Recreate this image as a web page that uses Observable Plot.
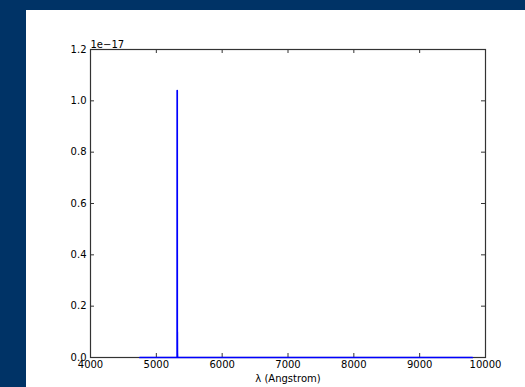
<!DOCTYPE html>
<html>
<head>
<meta charset="utf-8">
<script src="https://cdn.jsdelivr.net/npm/d3@7"></script>
<script src="https://cdn.jsdelivr.net/npm/@observablehq/plot@0.6"></script>
<style>
  html, body { margin: 0; padding: 0; background: #003366; width: 525px; height: 387px; overflow: hidden; }
  #chart { position: absolute; left: 26px; top: 10px; width: 499px; height: 377px; background: #ffffff; }
  #chart svg { background: #ffffff; font-family: "DejaVu Sans", sans-serif; font-size: 10px; color: #000; }
</style>
</head>
<body>
<div id="chart"></div>
<script>
// Spectrum: wavelength (Angstrom) and flux (units of 1e-17)
const wavelength = [4750, 5310, 5316, 5317, 5318, 5319, 5320, 5321, 5323, 5330, 9800];
const flux       = [0,    0,    0,    1.04, 0.03, 0.10, 0.02, 0.01, 0,    0,    0];
const xTicks = [4000, 5000, 6000, 7000, 8000, 9000, 10000];
const yTicks = [0.0, 0.2, 0.4, 0.6, 0.8, 1.0, 1.2];
const offsetLabel = "1e\u221217";
const xLabel = "\u03bb (Angstrom)";

const data = wavelength.map((w, i) => ({w, f: flux[i]}));

const chart = Plot.plot({
  width: 499,
  height: 377,
  marginLeft: 64,
  marginRight: 40,
  marginTop: 39,
  marginBottom: 30,
  style: {fontFamily: "DejaVu Sans, sans-serif", fontSize: "10px", color: "#000", background: "#fff"},
  x: {domain: [4000, 10000]},
  y: {domain: [0, 1.2]},
  marks: [
    Plot.tickX(xTicks, {x: d => d, stroke: "#333", insetTop: 304}),
    Plot.tickX(xTicks, {x: d => d, stroke: "#333", insetBottom: 304}),
    Plot.tickY(yTicks, {y: d => d, stroke: "#333", insetRight: 391}),
    Plot.tickY(yTicks, {y: d => d, stroke: "#333", insetLeft: 391}),
    Plot.frame({stroke: "#333", strokeWidth: 1.2}),
    Plot.line(data, {x: "w", y: "f", stroke: "#0000ff", strokeWidth: 1.7}),
    Plot.axisX(xTicks, {tickSize: 0, tickPadding: 3, tickFormat: d => String(d), label: xLabel, labelAnchor: "center", labelArrow: "none", labelOffset: 24, fill: "#000"}),
    Plot.axisY(yTicks, {tickSize: 0, tickPadding: 4, tickFormat: d => d.toFixed(1), label: null, fill: "#000"}),
    Plot.text([offsetLabel], {frameAnchor: "top-left", text: d => d, dy: -2, lineAnchor: "bottom", textAnchor: "start", fill: "#000", fontSize: 10})
  ]
});
document.getElementById("chart").appendChild(chart);
</script>
</body>
</html>
